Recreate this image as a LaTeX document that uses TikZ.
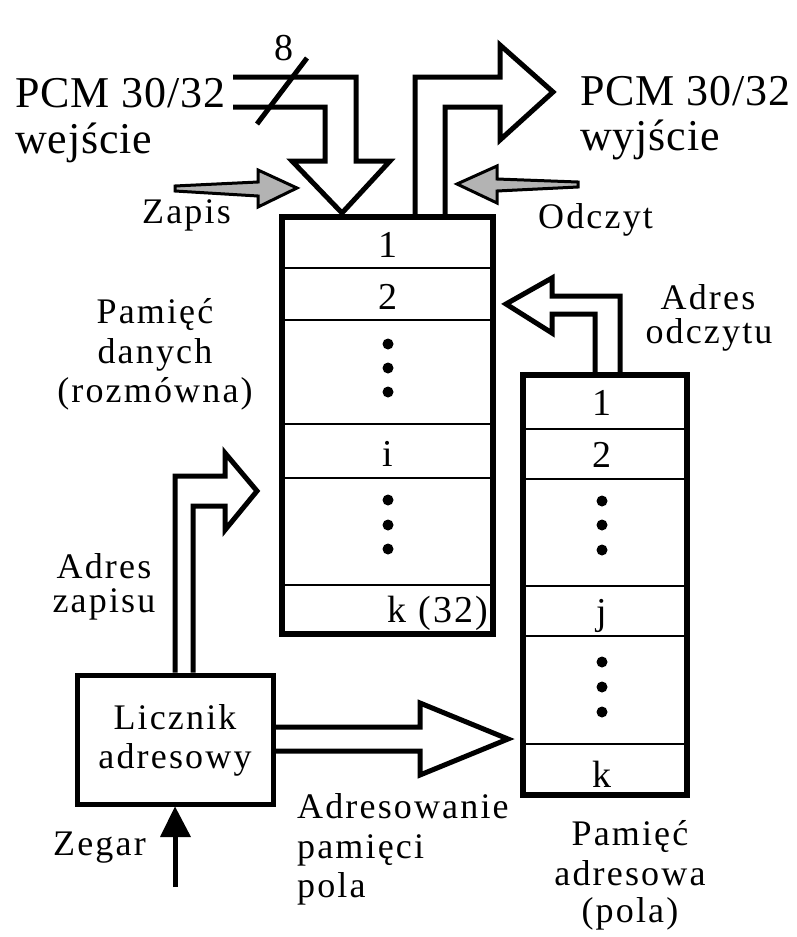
\documentclass[tikz,border=0pt]{standalone}
\usepackage{fontspec}
\setmainfont{Liberation Serif}[LetterSpace=6]
\definecolor{arrgray}{HTML}{B3B3B3}
\tikzset{
  big/.style={font=\fontsize{44}{48}\selectfont\addfontfeature{LetterSpace=2}, inner sep=0pt},
  mid/.style={font=\fontsize{36}{40}\selectfont, inner sep=0pt},
  lab/.style={font=\fontsize{38}{40}\selectfont, inner sep=0pt},
  memframe/.style={draw, line width=5.5pt, inner sep=0pt},
  rowline/.style={line width=1.3pt},
  blockarrow/.style={draw, line width=5pt, miter limit=20},
  grayarrow/.style={draw, line width=3pt, fill=arrgray, line join=miter},
  dotmark/.style={fill, circle, inner sep=0pt, minimum size=11pt},
}
\begin{document}
\begin{tikzpicture}[x=1pt,y=-1pt]
\useasboundingbox (0,0) rectangle (796,937);

% memory boxes
\node[memframe, minimum width=211pt, minimum height=417pt] (dm) at (387.5,425.5) {};
\node[memframe, minimum width=164pt, minimum height=420pt] (am) at (605,585) {};
\node[memframe, line width=5pt, minimum width=196pt, minimum height=129pt] (cnt) at (175,739.5) {};

% rows of data memory
\foreach \yy in {268,320,424,478,585}
  \draw[rowline] (dm.west |- 0,\yy) -- (dm.east |- 0,\yy);
% rows of address memory
\foreach \yy in {429,479,586,636,744}
  \draw[rowline] (am.west |- 0,\yy) -- (am.east |- 0,\yy);

% labels in data memory
\node[lab, anchor=base] (d1) at (388,257) {1};
\node[lab, anchor=base] (d2) at (388,309) {2};
\node[lab, anchor=base] (di) at (388,466) {i};
\node[lab, anchor=base] (dk) at (438,622) {k (32)};
\foreach \yy [count=\n] in {344,368,392,500,525,549}
  \node[dotmark] (dd\n) at (388,\yy) {};

% labels in address memory
\node[lab, anchor=base] (a1) at (602,415) {1};
\node[lab, anchor=base] (a2) at (602,467) {2};
\node[lab, anchor=base] (aj) at (602,624) {j};
\node[lab, anchor=base] (ak) at (602,787) {k};
\foreach \yy [count=\n] in {501,525,550,662,687,712}
  \node[dotmark] (ad\n) at (602,\yy) {};

% input block arrow
\draw[blockarrow] (233,77) -- (356,77) -- (356,161) -- (390,161) -- (342,213)
  -- (292,161) -- (325,161) -- (325,107) -- (233,107);
\draw[line width=5pt] (307,58) -- (257,124);
\node[lab, anchor=base] (eight) at (284,60) {8};

% output block arrow
\draw[blockarrow] (dm.north -| 415,0) -- (415,77) -- (500,77) -- (500,45) -- (553,92)
  -- (500,140) -- (500,107) -- (445,107) -- (dm.north -| 445,0);

% read address arrow
\draw[blockarrow] (am.north -| 595,0) -- (595,314) -- (552,314) -- (552,333) -- (506,304)
  -- (552,278) -- (552,296) -- (620,296) -- (am.north -| 620,0);

% write address arrow
\draw[blockarrow] (cnt.north -| 175,0) -- (175,476) -- (225,476) -- (225,453) -- (257,491)
  -- (225,530) -- (225,506) -- (193,506) -- (cnt.north -| 193,0);

% field addressing arrow
\draw[blockarrow] (cnt.east |- 0,727) -- (420,727) -- (420,703) -- (508,739)
  -- (420,775) -- (420,751) -- (cnt.east |- 0,751);

% clock arrow
\coordinate (clk) at (175,887);
\draw[line width=5pt] (clk) -- (175,836);
\fill (160,837) -- (191,837) -- (cnt.south) -- cycle;

% write / read strobe arrows
\draw[grayarrow] (175,186) -- (258,182) -- (258,170) -- (297,188) -- (258,207)
  -- (258,196) -- (175,191) -- cycle;
\draw[grayarrow] (578,182) -- (497,179) -- (497,166) -- (457,184) -- (497,203)
  -- (497,191) -- (578,187) -- cycle;

% texts
\node[big, anchor=base west] (pcmin) at (15,107) {PCM 30/32};
\node[big, anchor=base west] (wej) at (15,153) {wejście};
\node[big, anchor=base west] (pcmout) at (580,105) {PCM 30/32};
\node[big, anchor=base west] (wyj) at (580,150) {wyjście};

\node[mid, anchor=base west] (zapis) at (142,223) {Zapis};
\node[mid, anchor=base west] (odczyt) at (538,228) {Odczyt};

\node[mid, anchor=base] (ao1) at (708,309) {Adres};
\node[mid, anchor=base] (ao2) at (709,343) {odczytu};

\node[mid, anchor=base] (pd1) at (155,323) {Pamięć};
\node[mid, anchor=base] (pd2) at (155,363) {danych};
\node[mid, anchor=base] (pd3) at (155,402) {(rozmówna)};

\node[mid, anchor=base] (az1) at (104,578) {Adres};
\node[mid, anchor=base] (az2) at (104,612) {zapisu};

\node[mid, anchor=base] (ln1) at (175,729) {Licznik};
\node[mid, anchor=base] (ln2) at (175,768) {adresowy};

\node[mid, anchor=base west] (zegar) at (53,855) {Zegar};

\node[mid, anchor=base west] (ap1) at (297,818) {Adresowanie};
\node[mid, anchor=base west] (ap2) at (297,858) {pamięci};
\node[mid, anchor=base west] (ap3) at (297,897) {pola};

\node[mid, anchor=base] (pa1) at (630,845) {Pamięć};
\node[mid, anchor=base] (pa2) at (630,885) {adresowa};
\node[mid, anchor=base] (pa3) at (630,922) {(pola)};
\end{tikzpicture}
\end{document}
